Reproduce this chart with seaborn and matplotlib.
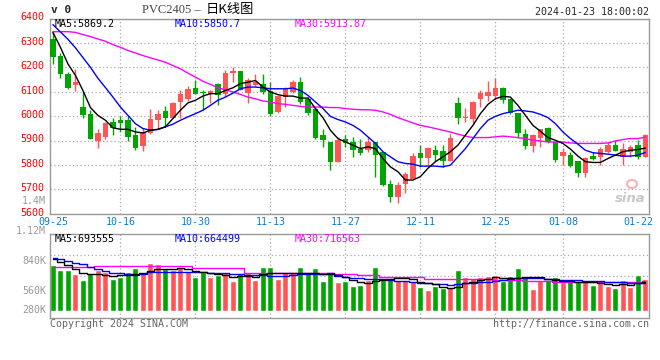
import numpy as np
import pandas as pd
import matplotlib
matplotlib.use("Agg")
import matplotlib.pyplot as plt
import matplotlib.transforms as mtransforms
from matplotlib.patches import Ellipse
import seaborn as sns

# Trading days shown (PVC2405 daily K line)
trade_days = (["09-%02d" % d for d in (25, 26, 27, 28)]
              + ["10-%02d" % d for d in (9, 10, 11, 12, 13, 16, 17, 18, 19, 20, 23, 24, 25, 26, 27, 30, 31)]
              + ["11-%02d" % d for d in (1, 2, 3, 6, 7, 8, 9, 10, 13, 14, 15, 16, 17, 20, 21, 22, 23, 24, 27, 28, 29, 30)]
              + ["12-%02d" % d for d in (1, 4, 5, 6, 7, 8, 11, 12, 13, 14, 15, 18, 19, 20, 21, 22, 25, 26, 27, 28, 29)]
              + ["01-%02d" % d for d in (2, 3, 4, 5, 8, 9, 10, 11, 12, 15, 16, 17, 18, 19, 22, 23)])

opens = [6316, 6245, 6172, 6128, 6036, 6007, 5899, 5915, 5975, 5983,
         5983, 5922, 5878, 5931, 5983, 6020, 5994, 6056, 6069, 6116,
         6099, 6089, 6130, 6089, 6176, 6183, 6094, 6126, 6130, 6101,
         6017, 6078, 6099, 6138, 6069, 6031, 5922, 5894, 5813, 5908,
         5894, 5867, 5860, 5894, 5854, 5722, 5670, 5722, 5742, 5847,
         5830, 5860, 5858, 5817, 6054, 5991, 5990, 6069, 6082, 6082,
         6115, 6069, 6013, 5926, 5877, 5911, 5952, 5894, 5837, 5840,
         5816, 5768, 5837, 5833, 5854, 5881, 5833, 5854, 5881, 5833]
closes = [6244, 6172, 6116, 6138, 6006, 5907, 5930, 5971, 5952, 5973,
          5915, 5871, 5935, 5987, 6010, 5994, 6055, 6089, 6112, 6092,
          6096, 6101, 6085, 6176, 6184, 6108, 6146, 6139, 6099, 6007,
          6081, 6112, 6138, 6058, 6013, 5912, 5901, 5813, 5901, 5890,
          5863, 5850, 5894, 5840, 5718, 5670, 5718, 5762, 5836, 5829,
          5871, 5840, 5817, 5912, 5994, 5997, 6058, 6094, 6099, 6115,
          6067, 6013, 5931, 5877, 5922, 5946, 5892, 5820, 5854, 5795,
          5765, 5829, 5826, 5867, 5881, 5858, 5867, 5874, 5833, 5922]
highs = [6343, 6258, 6180, 6194, 6099, 6024, 5946, 5976, 5994, 6000,
         6000, 5956, 5952, 6028, 6024, 6040, 6058, 6105, 6122, 6149,
         6105, 6105, 6137, 6187, 6201, 6185, 6156, 6173, 6173, 6139,
         6085, 6119, 6149, 6160, 6078, 6035, 5949, 5894, 5915, 5922,
         5915, 5908, 5915, 5894, 5854, 5738, 5731, 5772, 5847, 5881,
         5874, 5881, 5881, 5926, 6078, 6034, 6062, 6105, 6143, 6156,
         6119, 6069, 6013, 5946, 5928, 5949, 5956, 5894, 5871, 5854,
         5816, 5833, 5854, 5874, 5894, 5904, 5890, 5881, 5901, 5928]
lows = [6214, 6156, 6110, 6101, 5992, 5905, 5870, 5905, 5922, 5935,
        5896, 5860, 5858, 5928, 5946, 5956, 5992, 5994, 6062, 6090,
        6024, 6054, 6044, 6078, 6139, 6105, 6054, 6122, 6092, 5999,
        6013, 6037, 6095, 6051, 6003, 5908, 5874, 5779, 5810, 5874,
        5833, 5840, 5853, 5752, 5715, 5650, 5643, 5684, 5738, 5792,
        5799, 5816, 5792, 5817, 5969, 5976, 5972, 6037, 6062, 6071,
        6054, 6007, 5912, 5867, 5854, 5874, 5888, 5813, 5799, 5792,
        5752, 5752, 5820, 5799, 5847, 5858, 5799, 5833, 5826, 5833]

ma5 = [6343, 6282, 6214, 6167, 6105, 6035, 6003, 5983, 5952, 5946,
       5946, 5935, 5931, 5942, 5946, 5956, 5990, 6024, 6054, 6065,
       6082, 6092, 6092, 6105, 6116, 6133, 6139, 6146, 6119, 6099,
       6088, 6082, 6082, 6074, 6074, 6031, 5994, 5942, 5908, 5894,
       5881, 5867, 5874, 5867, 5826, 5792, 5772, 5738, 5738, 5752,
       5786, 5813, 5833, 5854, 5881, 5922, 5962, 6010, 6048, 6071,
       6081, 6078, 6044, 6003, 5962, 5938, 5912, 5901, 5888, 5865,
       5836, 5813, 5810, 5810, 5826, 5840, 5854, 5860, 5863, 5869]
ma10 = [6375, 6345, 6315, 6280, 6240, 6200, 6155, 6117, 6078, 6037,
        6003, 5969, 5949, 5942, 5945, 5956, 5967, 5983, 5997, 6010,
        6024, 6044, 6065, 6078, 6094, 6112, 6119, 6119, 6116, 6112,
        6112, 6112, 6115, 6105, 6085, 6058, 6031, 5999, 5986, 5976,
        5962, 5942, 5915, 5888, 5854, 5833, 5813, 5806, 5803, 5795,
        5795, 5795, 5792, 5799, 5833, 5867, 5908, 5949, 5983, 5999,
        6010, 6017, 6024, 6021, 6017, 6007, 5994, 5969, 5935, 5908,
        5885, 5860, 5850, 5847, 5844, 5840, 5836, 5836, 5840, 5851]
ma30 = [6346, 6346, 6346, 6343, 6334, 6326, 6316, 6307, 6293, 6282,
        6269, 6259, 6248, 6239, 6230, 6221, 6207, 6194, 6176, 6160,
        6143, 6130, 6116, 6108, 6099, 6089, 6078, 6071, 6062, 6058,
        6051, 6048, 6044, 6040, 6037, 6037, 6037, 6035, 6035, 6031,
        6028, 6026, 6026, 6024, 6017, 6007, 5994, 5983, 5972, 5962,
        5956, 5949, 5942, 5935, 5926, 5918, 5912, 5912, 5912, 5915,
        5918, 5915, 5912, 5908, 5901, 5898, 5894, 5894, 5894, 5890,
        5888, 5888, 5888, 5888, 5890, 5898, 5904, 5908, 5908, 5914]

volume = [1104000, 976000, 976000, 880000, 736000, 896000, 976000, 928000, 760000, 816000,
          928000, 1024000, 912000, 1152000, 1128000, 992000, 976000, 1040000, 952000, 808000,
          936000, 808000, 856000, 896000, 712000, 912000, 920000, 736000, 1048000, 1048000,
          760000, 928000, 912000, 1048000, 896000, 1024000, 712000, 920000, 688000, 712000,
          592000, 616000, 736000, 1048000, 736000, 784000, 736000, 736000, 712000, 568000,
          496000, 592000, 544000, 568000, 976000, 808000, 784000, 808000, 832000, 856000,
          712000, 832000, 1024000, 832000, 520000, 736000, 736000, 808000, 688000, 712000,
          712000, 712000, 616000, 656000, 592000, 544000, 736000, 568000, 856000, 760000]
vol_ma5 = [1232000, 1176000, 1096000, 992000, 896000, 880000, 880000, 856000, 840000, 856000,
           856000, 872000, 896000, 960000, 1000000, 1000000, 1000000, 1016000, 992000, 960000,
           936000, 912000, 872000, 856000, 816000, 832000, 832000, 816000, 872000, 912000,
           912000, 912000, 896000, 896000, 896000, 896000, 880000, 880000, 856000, 800000,
           736000, 696000, 656000, 720000, 736000, 752000, 776000, 776000, 752000, 696000,
           656000, 632000, 576000, 540000, 576000, 656000, 696000, 736000, 760000, 800000,
           776000, 776000, 776000, 800000, 816000, 800000, 752000, 736000, 712000, 712000,
           696000, 688000, 688000, 656000, 640000, 616000, 632000, 616000, 656000, 693555]
vol_ma10 = [1256000, 1232000, 1200000, 1152000, 1120000, 1056000, 1008000, 960000, 912000, 896000,
            872000, 856000, 880000, 920000, 936000, 936000, 936000, 936000, 936000, 936000,
            936000, 912000, 896000, 896000, 880000, 880000, 856000, 856000, 856000, 840000,
            832000, 832000, 856000, 872000, 872000, 872000, 880000, 896000, 832000, 816000,
            792000, 776000, 752000, 752000, 752000, 736000, 720000, 704000, 688000, 672000,
            656000, 632000, 632000, 616000, 640000, 656000, 672000, 680000, 688000, 720000,
            736000, 752000, 776000, 792000, 776000, 776000, 768000, 752000, 736000, 736000,
            736000, 720000, 712000, 704000, 696000, 688000, 680000, 672000, 664000, 664499]
vol_ma30 = [1040000, 1040000, 1040000, 1040000, 1040000, 1040000, 1072000, 1072000, 1072000, 1072000,
            1072000, 1072000, 1072000, 1072000, 1072000, 1072000, 1072000, 1072000, 1072000, 1016000,
            1016000, 1016000, 1016000, 1016000, 1016000, 1016000, 896000, 896000, 896000, 896000,
            896000, 896000, 896000, 896000, 896000, 896000, 896000, 896000, 880000, 880000,
            880000, 856000, 856000, 856000, 816000, 816000, 816000, 800000, 800000, 800000,
            768000, 768000, 768000, 768000, 752000, 752000, 752000, 752000, 752000, 736000,
            736000, 736000, 736000, 712000, 712000, 712000, 712000, 696000, 696000, 696000,
            696000, 696000, 696000, 688000, 688000, 688000, 688000, 688000, 688000, 716563]

label_dates = ["09-25", "10-16", "10-30", "11-13", "11-27", "12-11", "12-25", "01-08", "01-22"]
grid_dates = ["10-16", "10-30", "11-13", "11-27", "12-11", "12-25", "01-08"]
price_ticks = [5600, 5700, 5800, 5900, 6000, 6100, 6200, 6300, 6400]
vol_labels = ["1.4M", "1.12M", "840K", "560K", "280K"]

RED = "#ff5555"
GREEN = "#00a600"
GRID = "#aaaaaa"
FRAME = "#999999"
MONO = "DejaVu Sans Mono"

sns.set_style("white")
plt.rcParams["font.family"] = [MONO, "Noto Sans CJK SC"]

df = pd.DataFrame({"i": np.arange(len(trade_days)), "date": trade_days,
                   "open": opens, "close": closes, "high": highs, "low": lows,
                   "ma5": ma5, "ma10": ma10, "ma30": ma30,
                   "vol": volume, "vma5": vol_ma5, "vma10": vol_ma10, "vma30": vol_ma30})
df["dir"] = np.where(df["close"] >= df["open"], "up", "down")
colors = df["dir"].map({"up": RED, "down": GREEN})

W, H = 660, 360
fig = plt.figure(figsize=(W / 100, H / 100), dpi=100)


def px_axes(left, top, right, bottom):
    return fig.add_axes([left / W, 1 - bottom / H, (right - left) / W, (bottom - top) / H])


ax1 = px_axes(50, 18.5, 649.3, 213.7)
ax2 = px_axes(50, 234.3, 649.3, 317.7)
xlim = (-0.39, 79.52)

# ---- price panel ----
grid_pos = [trade_days.index(d) for d in grid_dates]
for p in grid_pos:
    ax1.axvline(p, color=GRID, lw=0.9, ls=(0, (1, 2)), zorder=0)
    ax2.axvline(p, color=GRID, lw=0.9, ls=(0, (1, 2)), zorder=0)

body_lo = df[["open", "close"]].min(axis=1)
body_h = (df["close"] - df["open"]).abs().clip(lower=4)
ax1.vlines(df["i"], df["low"], df["high"], colors=colors, lw=1, zorder=2)
ax1.bar(df["i"], body_h, bottom=body_lo, width=0.77, color=colors, lw=0, zorder=3)

for col, c in [("ma30", "#ff00ff"), ("ma10", "#0000ff"), ("ma5", "#000000")]:
    sns.lineplot(data=df, x="i", y=col, color=c, lw=1, ax=ax1, zorder=4)

ax1.set_xlim(*xlim)
ax1.set_ylim(5600, 6400)
ax1.set_yticks(price_ticks)
ax1.set_yticklabels([str(v) for v in price_ticks])
ax1.grid(axis="y", color=GRID, lw=0.9, ls=(0, (1, 2)))
ax1.set_xticks([trade_days.index(d) for d in label_dates])
ax1.set_xticklabels(label_dates)
ax1.tick_params(axis="y", length=0, pad=4, labelsize=7.2, labelcolor="#ff0000")
ax1.tick_params(axis="x", length=0, pad=2.5, labelsize=7.2, labelcolor="#0a7bd6")
ax1.set_xlabel("")
ax1.set_ylabel("")
up2 = mtransforms.ScaledTranslation(0, 2 / 100, fig.dpi_scale_trans)
for lab in ax1.get_yticklabels():
    lab.set_transform(lab.get_transform() + up2)

# ---- volume panel ----
sns.barplot(data=df, x="i", y="vol", hue="dir", palette={"up": RED, "down": GREEN},
            native_scale=True, dodge=False, width=0.8, saturation=1, legend=False,
            ax=ax2, zorder=2)
for col, c in [("vma30", "#ff00ff"), ("vma10", "#0000ff"), ("vma5", "#000000")]:
    sns.lineplot(data=df, x="i", y=col, color=c, lw=1, ax=ax2, zorder=4,
                 drawstyle="steps-mid")
ax2.set_xlim(*xlim)
ax2.set_ylim(-168000, 1833600)
ax2.set_yticks(np.linspace(-168000, 1833600, 5)[1:-1])
ax2.set_yticklabels([])
ax2.set_xticks([])
ax2.grid(axis="y", color=GRID, lw=0.9, ls=(0, (1, 2)))
ax2.tick_params(length=0)
ax2.set_xlabel("")
ax2.set_ylabel("")

for ax in (ax1, ax2):
    for s in ax.spines.values():
        s.set_color(FRAME)
        s.set_linewidth(1)


def ftext(x, y, s, **kw):
    kw.setdefault("fontsize", 7.2)
    kw.setdefault("va", "center")
    fig.text(x / W, 1 - y / H, s, **kw)


# header
ftext(51, 10, "v 0", fontweight="bold", fontsize=8)
ftext(142, 10, "PVC2405 \u2013", family="Liberation Serif", color="#444444", fontsize=9)
ftext(206, 10, "日K线图", family="Noto Sans CJK SC", color="#000000", fontsize=9.5)
ftext(649, 12, "2024-01-23 18:00:02", ha="right")

# MA legends
ftext(55, 24, "MA5:%.1f" % 5869.2, color="#000000")
ftext(175, 24, "MA10:%.1f" % 5850.7, color="#0000ff")
ftext(295, 24, "MA30:%.2f" % 5913.87, color="#ff00ff")
ftext(55, 238.5, "MA5:693555", color="#000000")
ftext(175, 238.5, "MA10:664499", color="#0000ff")
ftext(295, 238.5, "MA30:716563", color="#ff00ff")

# volume axis labels
for s, y in zip(vol_labels, [201, 230.7, 261, 290.7, 310]):
    ftext(46, y, s, ha="right", color="#999999")

# watermark and footer
fig.patches.append(Ellipse((632 / W, 1 - 184 / H), 10 / W, 8 / H, transform=fig.transFigure,
                           fill=False, edgecolor="#f4b4b4", lw=1.5))
ftext(646, 198, "sina", ha="right", color="#c8c8c8", fontsize=9.5, fontweight="bold",
      style="italic", family="DejaVu Sans")
ftext(50, 324, "Copyright 2024 SINA.COM", color="#666666")
ftext(649, 324, "http://finance.sina.com.cn", ha="right", color="#666666")

fig.savefig("out.png", dpi=100)
